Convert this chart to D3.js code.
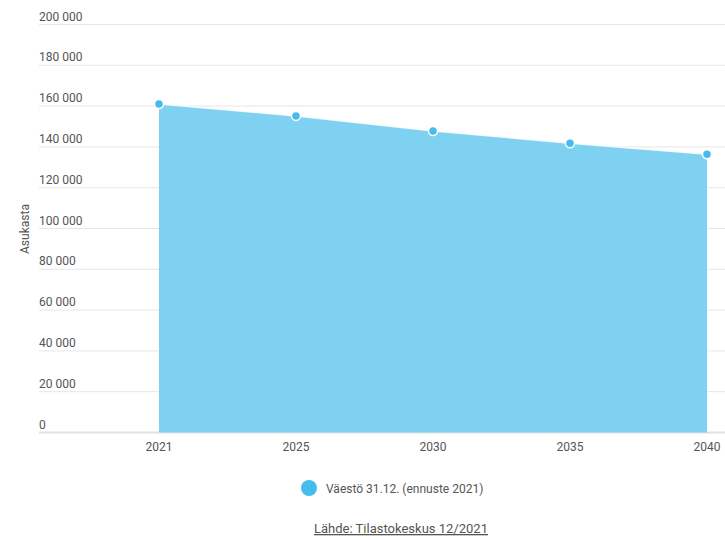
<!DOCTYPE html>
<html>
<head>
<meta charset="utf-8">
<script src="https://cdn.jsdelivr.net/npm/d3@7"></script>
<style>
  body { margin: 0; background: #fff; }
  text { font-family: Roboto, "Noto Sans", sans-serif; }
</style>
</head>
<body>
<div id="chart"></div>
<script>
// data
const years = ['2021', '2025', '2030', '2035', '2040'];
const population = [161000, 155200, 147800, 141800, 136400];
const yTicks = [0, 20000, 40000, 60000, 80000, 100000, 120000, 140000, 160000, 180000, 200000];
const seriesName = 'Väestö 31.12. (ennuste 2021)';
const yTitle = 'Asukasta';
const sourceText = 'Lähde: Tilastokeskus 12/2021';

const width = 725;
const height = 540;
const gridLeft = 39;
const areaColor = '#7fd1f2';
const dotColor = '#45bbee';
const textColor = '#555';

const svg = d3.select('#chart')
    .append('svg')
    .attr('width', width)
    .attr('height', height);

const x = d3.scalePoint()
    .domain(years)
    .range([159, 707]);

const y = d3.scaleLinear()
    .domain([0, 200000])
    .range([432.5, 24.5]);

const fmt = d => d3.format(',')(d).replace(/,/g, ' ');

// gridlines + labels sitting on top of them
const grid = svg.append('g');
grid.selectAll('line')
    .data(yTicks)
    .join('line')
        .attr('x1', gridLeft)
        .attr('x2', width)
        .attr('y1', d => y(d))
        .attr('y2', d => y(d))
        .attr('stroke', d => d === 0 ? '#e2e2e2' : '#e6e6e6')
        .attr('stroke-width', d => d === 0 ? 2 : 1);
grid.selectAll('text')
    .data(yTicks)
    .join('text')
        .attr('x', gridLeft)
        .attr('y', d => y(d) - 4)
        .attr('fill', textColor)
        .style('font-size', '12px')
        .text(fmt);

svg.append('text')
    .attr('transform', 'translate(29,229) rotate(-90)')
    .attr('text-anchor', 'middle')
    .attr('fill', textColor)
    .style('font-size', '12px')
    .text(yTitle);

const points = years.map((yr, i) => ({ year: yr, value: population[i] }));

const area = d3.area()
    .x(d => x(d.year))
    .y0(y(0))
    .y1(d => y(d.value));

svg.append('path')
    .datum(points)
    .attr('d', area)
    .attr('fill', areaColor);

svg.append('path')
    .datum(points)
    .attr('d', d3.line().x(d => x(d.year)).y(d => y(d.value)))
    .attr('fill', 'none')
    .attr('stroke', '#fff')
    .attr('stroke-opacity', 0.8)
    .attr('stroke-width', 1.5);

svg.append('g')
  .selectAll('circle')
    .data(points)
    .join('circle')
        .attr('cx', d => x(d.year))
        .attr('cy', d => y(d.value))
        .attr('r', 4.5)
        .attr('fill', dotColor)
        .attr('stroke', '#fff')
        .attr('stroke-width', 1.5);

// x labels
svg.append('g')
  .selectAll('text')
    .data(years)
    .join('text')
        .attr('x', d => x(d))
        .attr('y', 451)
        .attr('text-anchor', 'middle')
        .attr('fill', textColor)
        .style('font-size', '12px')
        .text(d => d);

// legend
svg.append('circle')
    .attr('cx', 309)
    .attr('cy', 488)
    .attr('r', 8)
    .attr('fill', dotColor);
svg.append('text')
    .attr('x', 326)
    .attr('y', 492.5)
    .attr('fill', textColor)
    .style('font-size', '12px')
    .text(seriesName);

// source
svg.append('text')
    .attr('x', 401)
    .attr('y', 533)
    .attr('text-anchor', 'middle')
    .attr('fill', textColor)
    .style('font-size', '13px')
    .style('text-decoration', 'underline')
    .text(sourceText);
</script>
</body>
</html>
